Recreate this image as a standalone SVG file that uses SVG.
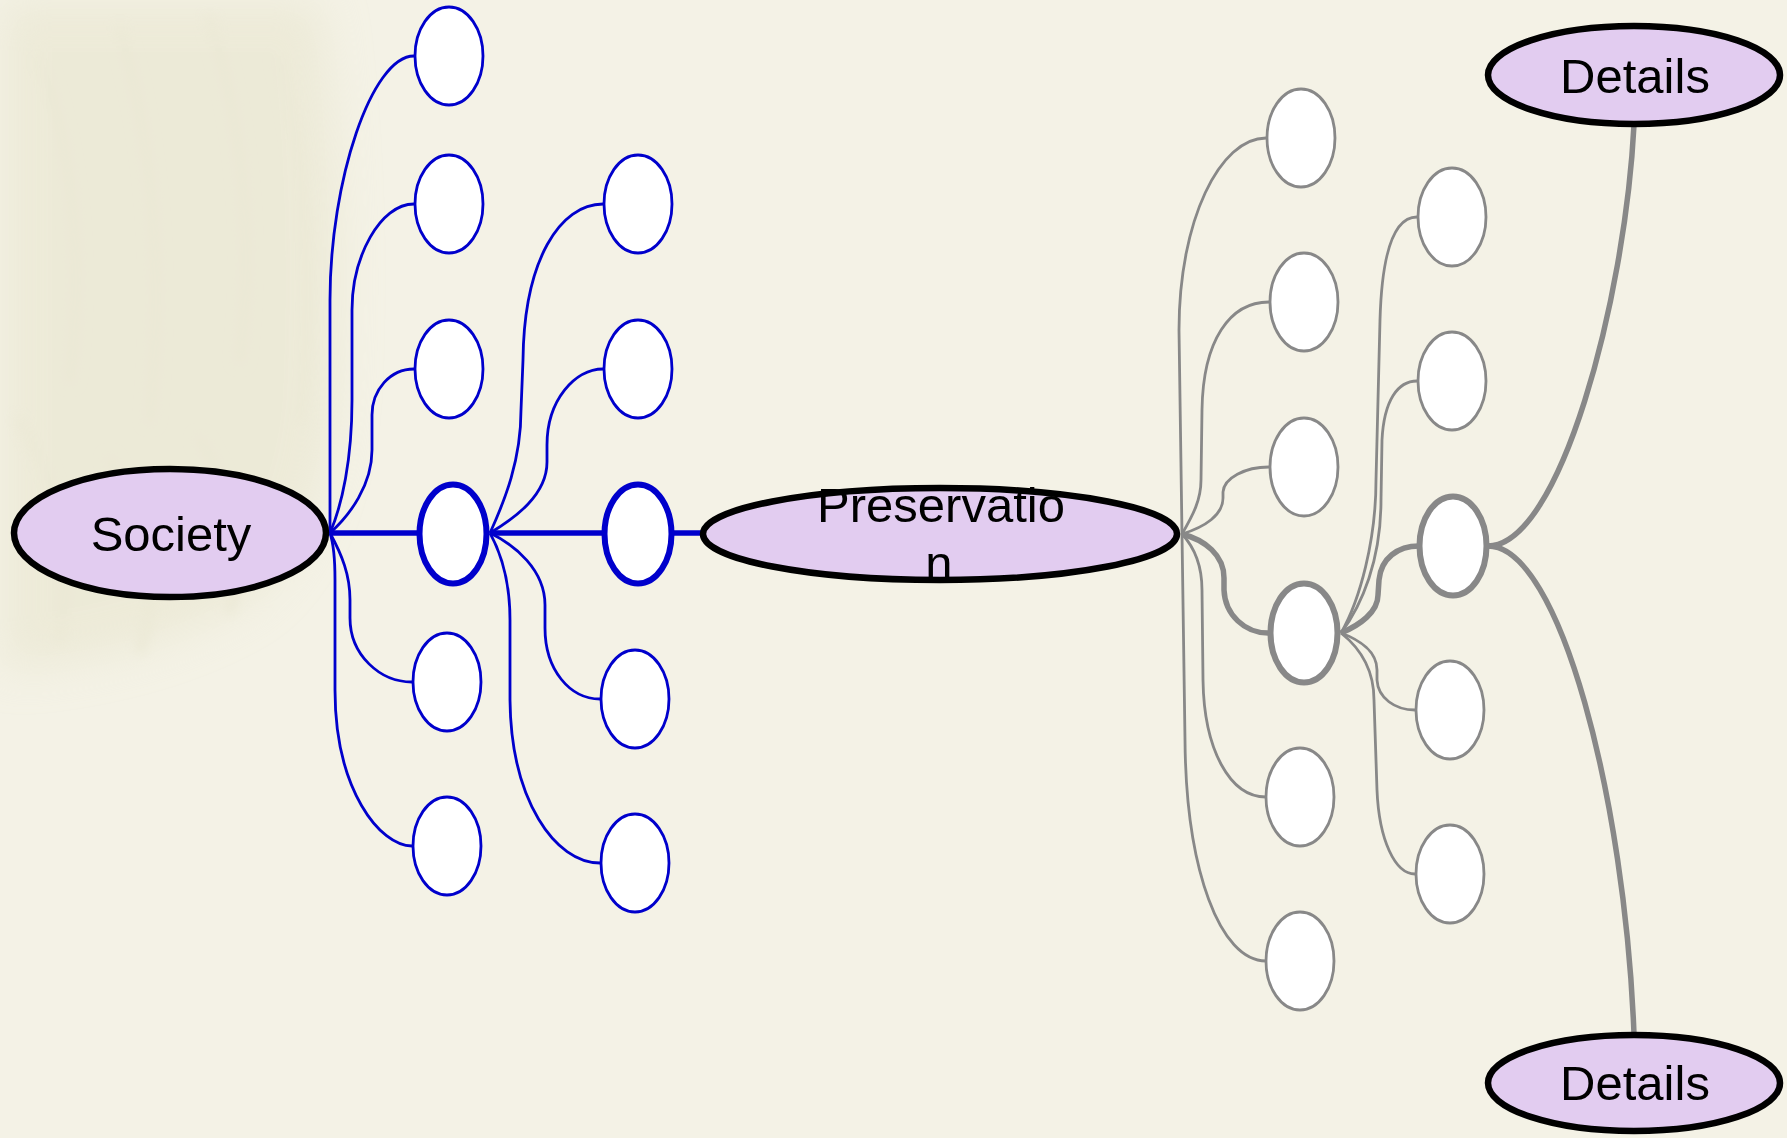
<svg xmlns="http://www.w3.org/2000/svg" width="1787" height="1138" viewBox="0 0 1787 1138">
<defs>
<filter id="blur" x="-30%" y="-30%" width="160%" height="160%"><feGaussianBlur stdDeviation="22"/></filter>
<filter id="blur2" x="-30%" y="-30%" width="160%" height="160%"><feGaussianBlur stdDeviation="6"/></filter>
<style>
.bt{fill:none;stroke:#0000CC;stroke-width:2.8}
.bT{fill:none;stroke:#0000CC;stroke-width:5.5}
.gt{fill:none;stroke:#888888;stroke-width:2.8}
.gT{fill:none;stroke:#888888;stroke-width:5.5}
.nb{fill:#FFFFFF;stroke:#0000CC;stroke-width:2.8}
.nB{fill:#FFFFFF;stroke:#0000CC;stroke-width:6}
.ng{fill:#FFFFFF;stroke:#888888;stroke-width:2.8}
.nG{fill:#FFFFFF;stroke:#888888;stroke-width:6}
.main{fill:#E2CCF0;stroke:#000000;stroke-width:6.5}
.lbl{font-family:"Liberation Sans",Arial,sans-serif;font-size:49px;fill:#000000;text-anchor:middle}
.st{fill:none;stroke:#E3E0C6;stroke-width:9;stroke-linecap:round}
</style>
</defs>
<rect x="0" y="0" width="1787" height="1138" fill="#F4F2E6"/>
<g id="texture" opacity="0.5">
<path d="M0 0 L320 0 Q345 180 335 400 Q325 540 250 600 Q150 660 0 670 Z" fill="#E6E3CA" filter="url(#blur)"/>
<g filter="url(#blur2)">
<path class="st" d="M40 60 Q90 200 70 380"/>
<path class="st" d="M120 30 Q170 200 150 420"/>
<path class="st" d="M210 20 Q260 180 240 360"/>
<path class="st" d="M280 60 Q320 220 300 420"/>
<path class="st" d="M20 420 Q80 520 60 640"/>
<path class="st" d="M110 460 Q170 560 140 650"/>
<path class="st" d="M200 440 Q250 520 230 610"/>
</g>
</g>
<g id="connectors">
<path class="bt" d="M330 533 L330 300 C330 180 372 56 414 56"/>
<path class="bt" d="M330 533 C342 505 352 460 352 400 L352 310 C352 257 380 204 414 204"/>
<path class="bt" d="M330 533 C350 515 372 485 372 450 L372 415 C372 390 390 369 414 369"/>
<path class="bt" d="M330 533 C342 555 350 575 350 600 L350 618 C350 655 380 682 412 682"/>
<path class="bt" d="M330 533 C334 545 335 560 335 580 L335 690 C335 790 380 846 412 846"/>
<path class="bT" d="M330 533 L419 533"/>
<path class="bt" d="M490 533 C505 500 521 460 521 410 L523 360 C524 260 560 204 603 204"/>
<path class="bt" d="M490 533 C515 518 547 495 547 462 L547 445 C547 400 575 369 603 369"/>
<path class="bt" d="M490 533 C515 545 545 570 545 605 L545 628 C545 670 570 699 600 699"/>
<path class="bt" d="M490 533 C502 555 510 585 510 620 L510 700 C511 800 555 863 600 863"/>
<path class="bT" d="M490 533 L603 533"/>
<path class="bT" d="M674 533 L702 533"/>
<path class="gt" d="M1182 534 L1179 330 C1179 220 1220 138 1266 138"/>
<path class="gt" d="M1182 534 C1193 515 1201 500 1201 480 L1202 410 C1203 340 1230 302 1269 302"/>
<path class="gt" d="M1182 534 C1205 527 1223 515 1223 498 L1223 492 C1224 478 1245 467 1269 467"/>
<path class="gT" d="M1182 534 C1205 540 1224 555 1224 578 L1224 590 C1225 615 1245 633 1268 633"/>
<path class="gt" d="M1182 534 C1195 548 1202 565 1202 590 L1203 680 C1204 750 1230 797 1266 797"/>
<path class="gt" d="M1182 534 L1185 740 C1186 870 1220 961 1266 961"/>
<path class="gt" d="M1341 633 C1360 600 1376 540 1376 480 L1380 320 C1382 250 1395 217 1417 217"/>
<path class="gt" d="M1341 633 C1362 605 1381 560 1381 500 L1382 440 C1384 400 1398 381 1417 381"/>
<path class="gT" d="M1341 633 C1360 625 1378 612 1378 595 L1379 580 C1381 558 1398 546 1419 546"/>
<path class="gt" d="M1341 633 C1360 640 1377 652 1377 670 L1377 680 C1378 698 1395 710 1415 710"/>
<path class="gt" d="M1341 633 C1360 648 1374 670 1374 700 L1377 790 C1379 840 1395 874 1415 874"/>
<path class="gT" d="M1488 546 C1560 546 1625 300 1634 125"/>
<path class="gT" d="M1488 546 C1560 546 1625 800 1634 1034"/>
</g>
<g id="node-society"><ellipse class="main" cx="170" cy="533" rx="156" ry="64"/><text class="lbl" x="171" y="551">Society</text></g>
<g id="node-b1"><ellipse class="nb" cx="449" cy="56" rx="34" ry="49"/></g>
<g id="node-b2"><ellipse class="nb" cx="449" cy="204" rx="34" ry="49"/></g>
<g id="node-b3"><ellipse class="nb" cx="449" cy="369" rx="34" ry="49"/></g>
<g id="node-b4"><ellipse class="nB" cx="453" cy="534" rx="33.5" ry="49.5"/></g>
<g id="node-b5"><ellipse class="nb" cx="447" cy="682" rx="34" ry="49"/></g>
<g id="node-b6"><ellipse class="nb" cx="447" cy="846" rx="34" ry="49"/></g>
<g id="node-b7"><ellipse class="nb" cx="638" cy="204" rx="34" ry="49"/></g>
<g id="node-b8"><ellipse class="nb" cx="638" cy="369" rx="34" ry="49"/></g>
<g id="node-b9"><ellipse class="nB" cx="638" cy="534" rx="33.5" ry="49.5"/></g>
<g id="node-b10"><ellipse class="nb" cx="635" cy="699" rx="34" ry="49"/></g>
<g id="node-b11"><ellipse class="nb" cx="635" cy="863" rx="34" ry="49"/></g>
<g id="node-preservation"><ellipse class="main" cx="940" cy="534" rx="237" ry="46"/><text class="lbl" x="941" y="522">Preservatio</text><text class="lbl" x="939" y="580">n</text></g>
<g id="node-g1"><ellipse class="ng" cx="1301" cy="138" rx="34" ry="49"/></g>
<g id="node-g2"><ellipse class="ng" cx="1304" cy="302" rx="34" ry="49"/></g>
<g id="node-g3"><ellipse class="ng" cx="1304" cy="467" rx="34" ry="49"/></g>
<g id="node-g4"><ellipse class="nG" cx="1304" cy="633" rx="33.5" ry="49.5"/></g>
<g id="node-g5"><ellipse class="ng" cx="1300" cy="797" rx="34" ry="49"/></g>
<g id="node-g6"><ellipse class="ng" cx="1300" cy="961" rx="34" ry="49"/></g>
<g id="node-g7"><ellipse class="ng" cx="1452" cy="217" rx="34" ry="49"/></g>
<g id="node-g8"><ellipse class="ng" cx="1452" cy="381" rx="34" ry="49"/></g>
<g id="node-g9"><ellipse class="nG" cx="1453" cy="546" rx="33.5" ry="49.5"/></g>
<g id="node-g10"><ellipse class="ng" cx="1450" cy="710" rx="34" ry="49"/></g>
<g id="node-g11"><ellipse class="ng" cx="1450" cy="874" rx="34" ry="49"/></g>
<g id="node-details-top"><ellipse class="main" cx="1634" cy="75" rx="146" ry="49"/><text class="lbl" x="1635" y="93">Details</text></g>
<g id="node-details-bottom"><ellipse class="main" cx="1634" cy="1083" rx="146" ry="48"/><text class="lbl" x="1635" y="1100">Details</text></g>
</svg>
